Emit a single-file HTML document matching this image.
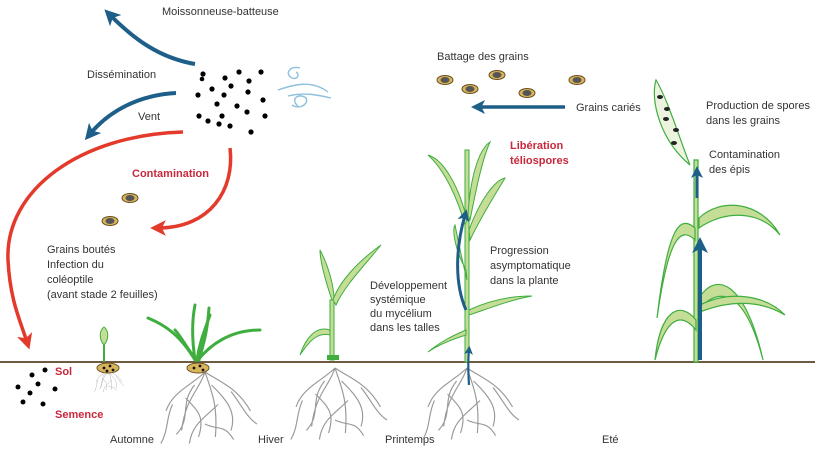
<!DOCTYPE html>
<html><head><meta charset="utf-8"><style>
html,body{margin:0;padding:0;background:#fff;}
svg{display:block}
text{font-family:"Liberation Sans",sans-serif;font-size:11px;fill:#333}
.r{fill:#c8283c;font-weight:bold}
</style></head><body>
<svg width="820" height="451" viewBox="0 0 820 451" xmlns="http://www.w3.org/2000/svg">
<defs>
<marker id="ab" viewBox="0 0 6 6" markerWidth="4" markerHeight="4" refX="3" refY="3" orient="auto" markerUnits="strokeWidth"><path d="M0,0 L6,3 L0,6 L1.5,3z" fill="#1d5f88"/></marker>
<marker id="ar" viewBox="0 0 6 6" markerWidth="4.5" markerHeight="4.5" refX="3" refY="3" orient="auto" markerUnits="strokeWidth"><path d="M0,0 L6,3 L0,6 L1.5,3z" fill="#e33a2c"/></marker>
<g id="grain"><ellipse cx="0" cy="0" rx="8" ry="4.5" fill="#d8b55a" stroke="#6a5020" stroke-width="1"/><ellipse cx="0" cy="0" rx="4.5" ry="3" fill="#555"/></g>
<g id="roots" fill="none" stroke="#999" stroke-width="0.9">
<path d="M0,0 C-5,15 -15,20 -18,45 M0,0 C5,15 10,25 8,50 M0,0 C-10,10 -25,15 -30,30 M0,0 C12,8 25,12 35,30 M-8,10 C-20,25 -10,35 -22,48 M5,10 C15,20 25,30 20,45 M-15,20 C-5,30 0,35 -5,50 M10,25 C0,35 -10,40 -12,55 M20,15 C28,25 32,35 40,40 M-25,25 C-30,35 -28,45 -34,55 M0,40 C10,45 15,40 22,52"/>
</g>
</defs>

<line x1="0" y1="362" x2="815" y2="362" stroke="#6e5a40" stroke-width="2"/>

<text x="162" y="15">Moissonneuse-batteuse</text>
<text x="87" y="78">Dissémination</text>
<text x="138" y="120">Vent</text>
<text x="132" y="177" class="r">Contamination</text>
<text x="47" y="253">Grains boutés</text>
<text x="47" y="268">Infection du</text>
<text x="47" y="283">coléoptile</text>
<text x="47" y="298">(avant stade 2 feuilles)</text>
<text x="55" y="375" class="r">Sol</text>
<text x="55" y="418" class="r">Semence</text>
<text x="110" y="443">Automne</text>
<text x="258" y="443">Hiver</text>
<text x="385" y="443">Printemps</text>
<text x="602" y="443">Eté</text>
<text x="370" y="289">Développement</text>
<text x="370" y="303">systémique</text>
<text x="370" y="317">du mycélium</text>
<text x="370" y="331">dans les talles</text>
<text x="490" y="254">Progression</text>
<text x="490" y="269">asymptomatique</text>
<text x="490" y="284">dans la plante</text>
<text x="510" y="149" class="r">Libération</text>
<text x="510" y="164" class="r">téliospores</text>
<text x="437" y="60">Battage des grains</text>
<text x="576" y="111">Grains cariés</text>
<text x="706" y="109">Production de spores</text>
<text x="706" y="124">dans les grains</text>
<text x="709" y="158">Contamination</text>
<text x="709" y="173">des épis</text>

<path d="M195,64 C160,58 135,40 110,15" fill="none" stroke="#1d5f88" stroke-width="4" marker-end="url(#ab)"/>
<path d="M176,93 C140,95 110,110 90,134" fill="none" stroke="#1d5f88" stroke-width="4" marker-end="url(#ab)"/>
<path d="M183,132 C80,135 5,190 8,260 C10,300 20,320 27,342" fill="none" stroke="#e33a2c" stroke-width="3.5" marker-end="url(#ar)"/>
<path d="M230,148 C235,190 210,228 158,228" fill="none" stroke="#e33a2c" stroke-width="3.5" marker-end="url(#ar)"/>

<g fill="#000">
<circle cx="203" cy="74" r="2.6"/><circle cx="202" cy="79" r="2.3"/><circle cx="239" cy="72" r="2.6"/><circle cx="261" cy="72" r="2.6"/>
<circle cx="225" cy="78" r="2.6"/><circle cx="249" cy="81" r="2.6"/><circle cx="231" cy="86" r="2.6"/><circle cx="212" cy="89" r="2.6"/>
<circle cx="248" cy="92" r="2.6"/><circle cx="198" cy="95" r="2.6"/><circle cx="224" cy="95" r="2.6"/><circle cx="263" cy="100" r="2.6"/>
<circle cx="217" cy="104" r="2.6"/><circle cx="237" cy="106" r="2.6"/><circle cx="247" cy="112" r="2.6"/><circle cx="199" cy="116" r="2.6"/>
<circle cx="222" cy="116" r="2.6"/><circle cx="265" cy="116" r="2.6"/><circle cx="208" cy="121" r="2.6"/><circle cx="219" cy="124" r="2.6"/>
<circle cx="230" cy="126" r="2.6"/><circle cx="251" cy="132" r="2.6"/>
<circle cx="45" cy="370" r="2.5"/><circle cx="32" cy="375" r="2.5"/><circle cx="38" cy="384" r="2.5"/><circle cx="55" cy="389" r="2.5"/>
<circle cx="18" cy="387" r="2.5"/><circle cx="30" cy="393" r="2.5"/><circle cx="23" cy="402" r="2.5"/><circle cx="43" cy="404" r="2.5"/>
</g>
<g fill="none" stroke="#8cc0dd" stroke-width="1.4">
<path d="M300,68 C290,65 284,74 292,78 C298,80 300,74 296,72"/>
<path d="M278,90 C295,84 312,80 328,92"/>
<path d="M288,96 C305,92 318,95 331,98"/>
<path d="M298,106 C290,100 298,92 306,98 C309,104 300,110 292,105"/>
</g>

<use href="#grain" x="130" y="198"/>
<use href="#grain" x="110" y="221"/>
<use href="#grain" x="445" y="80"/>
<use href="#grain" x="470" y="89"/>
<use href="#grain" x="497" y="75"/>
<use href="#grain" x="527" y="93"/>
<use href="#grain" x="577" y="80"/>
<path d="M565,107 L478,107" stroke="#1d5f88" stroke-width="3.5" marker-end="url(#ab)"/>

<!-- plant 1 -->
<g transform="translate(108 370) scale(0.4)"><use href="#roots"/></g>
<path d="M104,362 L104,345" stroke="#3fae3f" stroke-width="2"/>
<path d="M104,345 C98,338 100,330 104,327 C108,330 110,338 104,345z" fill="#c6dd98" stroke="#3fae3f"/>
<ellipse cx="108" cy="368" rx="11" ry="5" fill="#d8b55a" stroke="#6a5020"/>
<g fill="#111"><circle cx="104" cy="368" r="1.4"/><circle cx="110" cy="366" r="1.4"/><circle cx="113" cy="370" r="1.4"/><circle cx="107" cy="371" r="1.4"/></g>

<!-- plant 2 -->
<g transform="translate(205 372) scale(1.3)"><use href="#roots"/></g>
<g fill="none" stroke="#3fae3f" stroke-width="3" stroke-linecap="round">
<path d="M195,360 C180,335 165,325 148,318"/>
<path d="M195,360 C192,340 192,320 195,305"/>
<path d="M197,360 C200,340 205,330 210,315"/>
<path d="M198,360 C210,345 230,330 260,330"/>
<path d="M196,360 C185,345 180,335 175,330"/>
<path d="M199,360 C203,345 207,335 209,308"/>
</g>
<ellipse cx="198" cy="368" rx="11" ry="5" fill="#d8b55a" stroke="#6a5020"/>
<g fill="#111"><circle cx="194" cy="368" r="1.4"/><circle cx="200" cy="366" r="1.4"/><circle cx="203" cy="370" r="1.4"/></g>

<!-- plant 3 -->
<g transform="translate(335 368) scale(1.3)"><use href="#roots"/></g>
<g stroke="#3fae3f" stroke-width="1" fill="#c6dd98">
<path d="M330,360 L330,300 L334,300 L334,360z"/>
<path d="M332,300 C325,280 320,260 320,250 C328,265 334,285 334,300z"/>
<path d="M333,300 C340,280 360,260 381,245 C365,265 345,285 336,305z"/>
<path d="M330,330 C315,325 305,340 300,355 C310,340 318,332 330,335z"/>
</g>
<rect x="327" y="355" width="12" height="5" fill="#3fae3f"/>

<!-- plant 4 -->
<g transform="translate(467 368) scale(1.3)"><use href="#roots"/></g>
<g stroke="#3fae3f" stroke-width="1" fill="#c6dd98">
<path d="M465,362 L465,150 L469,150 L469,362z"/>
<path d="M467,220 C460,190 445,160 428,155 C445,170 458,200 465,225z"/>
<path d="M468,215 C470,180 478,150 490,142 C482,160 476,190 470,220z"/>
<path d="M469,230 C480,200 495,180 505,178 C495,195 482,215 470,240z"/>
<path d="M466,270 C455,250 452,230 455,225 C458,240 462,260 467,280z"/>
<path d="M469,310 C490,300 510,296 532,296 C510,300 490,308 469,315z"/>
<path d="M466,335 C450,340 438,345 428,352 C440,342 452,336 466,330z"/>
</g>
<path d="M466,310 C455,285 455,250 465,215" fill="none" stroke="#1d5f88" stroke-width="3" marker-end="url(#ab)"/>
<path d="M469,385 C468,370 468,360 469,350" fill="none" stroke="#1d5f88" stroke-width="2.2" marker-end="url(#ab)"/>

<!-- plant 5 -->
<g stroke="#3fae3f" stroke-width="1.2" fill="#c6dd98">
<path d="M694,362 L694,160 L698,160 L698,362z"/>
<path d="M695,228 C680,215 668,225 657,318 C668,240 680,225 695,240z"/>
<path d="M699,218 C720,198 760,200 780,235 C760,210 725,210 699,228z"/>
<path d="M696,320 C680,300 660,310 655,360 C665,320 680,310 696,330z"/>
<path d="M698,300 C715,270 745,280 763,360 C745,290 720,285 698,310z"/>
<path d="M700,305 C730,290 765,295 785,315 C760,300 730,300 700,312z"/>
<path d="M656,80 C650,100 660,140 690,165 C680,140 668,100 656,80z" fill="#eef3e0"/>
</g>
<g fill="#222"><ellipse cx="660" cy="97" rx="3" ry="2"/><ellipse cx="667" cy="109" rx="3" ry="2"/><ellipse cx="666" cy="119" rx="3" ry="2"/><ellipse cx="676" cy="130" rx="3" ry="2"/><ellipse cx="674" cy="143" rx="3" ry="2"/></g>
<path d="M700,360 L700,245" stroke="#1d5f88" stroke-width="4" marker-end="url(#ab)"/>
<path d="M697,198 L697,172" stroke="#1d5f88" stroke-width="3" marker-end="url(#ab)"/>
</svg>
</body></html>
